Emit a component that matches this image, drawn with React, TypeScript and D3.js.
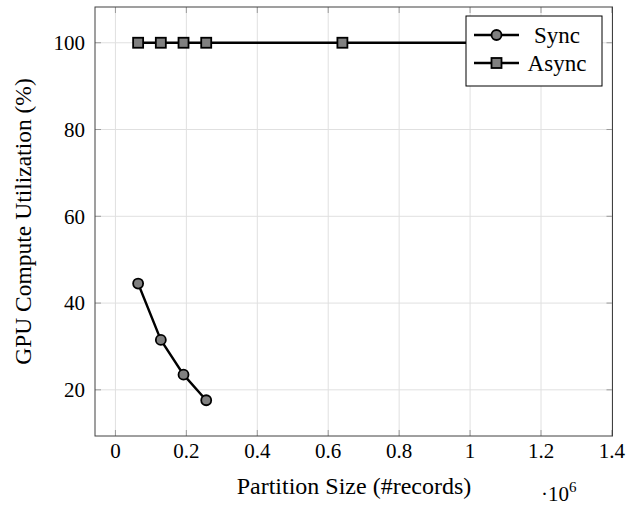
import * as d3 from 'd3'

// partition sizes in records
const syncX = [64000, 128000, 192000, 256000]
const syncY = [44.5, 31.5, 23.5, 17.6]
const asyncX = [64000, 128000, 192000, 256000, 640000, 1280000]
const asyncY = [100, 100, 100, 100, 100, 100]
const xTicks = [0, 0.2, 0.4, 0.6, 0.8, 1, 1.2, 1.4]
const yTicks = [20, 40, 60, 80, 100]
const seriesNames = ['Sync', 'Async']

const FONT = "'Liberation Serif', 'DejaVu Serif', serif"

export default function App() {
  const width = 639
  const height = 506
  const margin = { top: 7, right: 26.5, bottom: 70, left: 95 }
  const innerW = width - margin.left - margin.right
  const innerH = height - margin.top - margin.bottom

  // pgfplots-style 10% enlargement of data limits
  const xs = [...syncX, ...asyncX].map(d => d / 1e6)
  const ys = [...syncY, ...asyncY]
  const [x0, x1] = d3.extent(xs) as [number, number]
  const [y0, y1] = d3.extent(ys) as [number, number]
  const ex = (x1 - x0) * 0.1
  const ey = (y1 - y0) * 0.1

  const x = d3.scaleLinear().domain([x0 - ex, x1 + ex]).range([0, innerW])
  const y = d3.scaleLinear().domain([y0 - ey, y1 + ey]).range([innerH, 0])

  const line = d3.line<[number, number]>()
    .x(d => x(d[0]))
    .y(d => y(d[1]))

  const syncPts: [number, number][] = syncX.map((v, i) => [v / 1e6, syncY[i]])
  const asyncPts: [number, number][] = asyncX.map((v, i) => [v / 1e6, asyncY[i]])

  const r = 5
  const sq = 10
  const tickLen = 6
  const gridColor = '#e0e0e0'
  const tickColor = '#9a9a9a'

  const legendX = 466 - margin.left
  const legendY = 16 - margin.top
  const legendW = 136
  const legendH = 70

  const txt = { fontFamily: FONT }

  return (
    <svg width={width} height={height} style={{ position: 'absolute', left: 0, top: 0, background: '#fff', fontFamily: FONT }}>
      <g transform={`translate(${margin.left},${margin.top})`}>
        {/* grid */}
        {xTicks.map(t => (
          <line key={'gx' + t} x1={x(t)} x2={x(t)} y1={0} y2={innerH} stroke={gridColor} strokeWidth={1} />
        ))}
        {yTicks.map(t => (
          <line key={'gy' + t} x1={0} x2={innerW} y1={y(t)} y2={y(t)} stroke={gridColor} strokeWidth={1} />
        ))}

        {/* tick marks, both sides */}
        {xTicks.map(t => (
          <g key={'tx' + t}>
            <line x1={x(t)} x2={x(t)} y1={innerH} y2={innerH - tickLen} stroke={tickColor} />
            <line x1={x(t)} x2={x(t)} y1={0} y2={tickLen} stroke={tickColor} />
          </g>
        ))}
        {yTicks.map(t => (
          <g key={'ty' + t}>
            <line x1={0} x2={tickLen} y1={y(t)} y2={y(t)} stroke={tickColor} />
            <line x1={innerW} x2={innerW - tickLen} y1={y(t)} y2={y(t)} stroke={tickColor} />
          </g>
        ))}

        {/* series */}
        <path d={line(asyncPts) ?? ''} fill="none" stroke="#000" strokeWidth={2.4} />
        {asyncPts.map((p, i) => (
          <rect key={'a' + i} x={x(p[0]) - sq / 2} y={y(p[1]) - sq / 2} width={sq} height={sq}
            fill="#808080" stroke="#000" strokeWidth={1.8} />
        ))}
        <path d={line(syncPts) ?? ''} fill="none" stroke="#000" strokeWidth={2.4} />
        {syncPts.map((p, i) => (
          <circle key={'s' + i} cx={x(p[0])} cy={y(p[1])} r={r} fill="#808080" stroke="#000" strokeWidth={1.8} />
        ))}

        {/* frame */}
        <rect x={0} y={0} width={innerW} height={innerH} fill="none" stroke="#404040" strokeWidth={1} />

        {/* tick labels */}
        {xTicks.map(t => (
          <text key={'lx' + t} x={x(t)} y={innerH + 22} textAnchor="middle" fontSize={21} style={txt}>
            {d3.format('~g')(t)}
          </text>
        ))}
        {yTicks.map(t => (
          <text key={'ly' + t} x={-10} y={y(t)} dy="0.35em" textAnchor="end" fontSize={21} style={txt}>
            {t}
          </text>
        ))}

        {/* axis labels */}
        <text x={354 - margin.left} y={494 - margin.top} textAnchor="middle" fontSize={24} style={txt}>Partition Size (#records)</text>
        <text x={541 - margin.left} y={501 - margin.top} fontSize={21} style={txt}>
          ·10<tspan dy={-9} fontSize={15}>6</tspan>
        </text>
        <text transform={`translate(${31 - margin.left},${innerH / 2}) rotate(-90)`} textAnchor="middle" fontSize={23.5} style={txt}>
          GPU Compute Utilization (%)
        </text>

        {/* legend */}
        <g transform={`translate(${legendX},${legendY})`}>
          <rect x={0} y={0} width={legendW} height={legendH} fill="#fff" stroke="#000" strokeWidth={1} />
          {seriesNames.map((name, i) => {
            const cy = 19 + i * 28
            return (
              <g key={name}>
                <line x1={8} x2={53} y1={cy} y2={cy} stroke="#000" strokeWidth={2.4} />
                {i === 0
                  ? <circle cx={30.5} cy={cy} r={r} fill="#808080" stroke="#000" strokeWidth={1.8} />
                  : <rect x={30.5 - sq / 2} y={cy - sq / 2} width={sq} height={sq} fill="#808080" stroke="#000" strokeWidth={1.8} />}
                <text x={91} y={cy} dy="0.35em" textAnchor="middle" fontSize={23} style={txt}>{name}</text>
              </g>
            )
          })}
        </g>
      </g>
    </svg>
  )
}
